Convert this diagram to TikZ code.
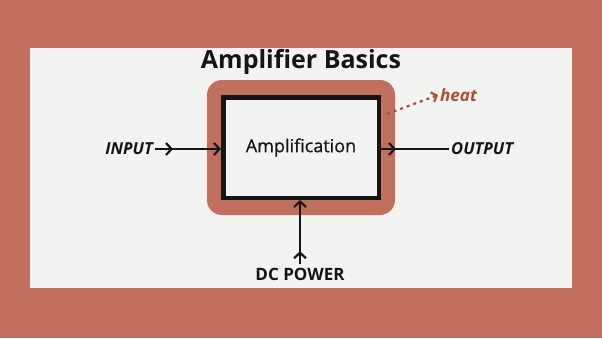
\documentclass[tikz,border=0pt]{standalone}
\usepackage{fontspec}
\setmainfont{Open Sans}
\newfontfamily\semifont[FakeBold=0.6]{Open Sans}
\usetikzlibrary{positioning,arrows.meta,decorations.markings}
\definecolor{clay}{HTML}{C2705E}
\definecolor{paper}{HTML}{F3F3F1}
\definecolor{heatred}{HTML}{B04E38}
\definecolor{ink}{HTML}{151515}

\begin{document}
\begin{tikzpicture}[
    x=1pt, y=-1pt,
    font=\semifont\fontsize{18}{21}\selectfont,
    text=ink,
    halo/.style={rounded corners=15pt, fill=clay, minimum width=188pt, minimum height=135pt, inner sep=0pt},
    ampbox/.style={draw=ink, line width=4.5pt, fill=paper, minimum width=155.5pt, minimum height=100.5pt, inner sep=0pt},
    label/.style={inner sep=2pt, font=\fontsize{16.5}{20}\selectfont\bfseries\itshape},
    sig/.style={draw=ink, line width=2.2pt, -{Straight Barb[length=5.5pt,width=12pt,line width=2.2pt]}},
    midtip/.style={postaction={decorate}, decoration={markings, mark=at position #1 with {\arrow{Straight Barb[length=5.5pt,width=12pt,line width=2.2pt]}}}},
    line/.style={draw=ink, line width=2.2pt}
  ]
    \fill[clay] (0,0) rectangle (602,338);
    \fill[paper] (30,48) rectangle (572,288);

    \node[halo] (halo) at (301,147.5) {};
    \node[ampbox] (amp) at (halo.center) {Amplification};
    \node[font=\fontsize{25}{29}\selectfont\bfseries] (title) at (301,62) {Amplifier Basics};

    \node[label, anchor=east] (input) at (155,149) {INPUT};
    \node[label, anchor=west] (output) at (449,149) {OUTPUT};
    \node[font=\fontsize{17}{20}\selectfont\bfseries] (dc) at (300,274) {DC POWER};
    \node[label, font=\fontsize{17}{20}\selectfont\bfseries\itshape, text=heatred, anchor=west] (heat) at (438,95) {heat};
    \coordinate (hot) at (387,114);

    \draw[sig, midtip=18pt] (input.east) -- (input.east -| amp.west);
    \draw[line, midtip=15pt] (amp.east |- output.west) -- (output.west);
    \draw[sig, midtip=13pt] (dc.north) -- (dc.north |- amp.south);
    \draw[heatred, line width=2.2pt, dash pattern=on 3pt off 4pt,
      -{Straight Barb[length=4.5pt,width=10pt,line width=2.2pt]}] (hot) -- (heat.west);
  \end{tikzpicture}
\end{document}
